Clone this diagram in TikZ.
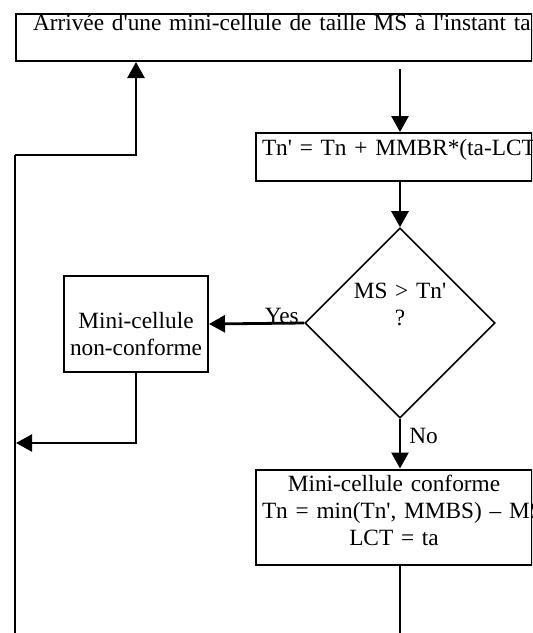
\documentclass[tikz,border=0pt]{standalone}
\usepackage{fontspec}
\newfontfamily\boxfont{Liberation Serif}
\usepackage{tikz}
\usetikzlibrary{calc, shapes.geometric, arrows.meta}

\begin{document}
\begin{tikzpicture}[x=1pt, y=-1pt, font=\boxfont\fontsize{23.3}{27}\selectfont,
    box/.style={draw, line width=2pt, inner xsep=6pt, inner ysep=0pt, anchor=north west, align=center},
    test/.style={draw, diamond, line width=1.6pt, minimum width=190pt, minimum height=190pt, inner sep=0pt, align=center},
    flow/.style={line width=2.8pt, -{Triangle[width=17pt,length=16pt]}},
    ret/.style={line width=2.2pt, -{Triangle[width=17pt,length=16pt]}},
    thin/.style={line width=1.7pt},
    lbl/.style={inner sep=4pt}]

    % 1. Page frame, everything past the right border is cut off
    \useasboundingbox (0,0) rectangle (533,633);
    \clip (0,0) rectangle (532,633);

    % 2. The boxes of the flow chart (text sits at the top of each box,
    %    long lines are kept whole and run out on the right)
    \node[box, inner xsep=17pt, text width=482pt, text height=16.5pt, text depth=31pt] (arr) at (15,12.5)
        {\mbox{Arrivée d'une mini-cellule de taille MS à l'instant ta}};
    \node[box, text width=264pt, text height=22pt, text depth=26pt] (upd) at (255,132)
        {\mbox{Tn' = Tn + MMBR*(ta-LCT)}};
    \node[test, text width=100pt, text height=16pt, text depth=66pt] (dia) at (400,323)
        {MS > Tn'\\?};
    \node[box, inner xsep=4pt, text width=136pt, text height=52pt, text depth=44pt] (nc) at (63,275)
        {Mini-cellule\\non-conforme};
    \node[box, text width=264pt, text height=21.5pt, text depth=73.5pt] (ok) at (255,468.5)
        {Mini-cellule conforme\\\mbox{Tn = min(Tn', MMBS) – MS}\\LCT = ta};

    % 3. Loose ends of the return paths
    \coordinate (loop) at (15,155);
    \coordinate (loopend) at (15,633);
    \coordinate (join) at (16,443);
    \coordinate (exit) at (400,633);

    % 4. Main column, straight down under the test
    \draw[flow, shorten <=7pt] (arr.south -| dia) -- (upd.north -| dia);
    \draw[flow] (upd.south -| dia) -- (dia.north);
    \draw[flow] (dia.west) -- node[lbl, pos=0, anchor=base east] {Yes} (nc.east);
    \draw[flow] (dia.south) -- node[lbl, anchor=base west, xshift=4pt] {No} (ok.north -| dia);
    \draw[thin] (ok.south -| exit) -- (exit);

    % 5. Way back to the arrival box
    \draw[ret] (nc.south) |- (join);
    \draw[thin] (loopend) -- (loop);
    \draw[flow] (loop) -| (arr.south -| nc);

\end{tikzpicture}
\end{document}
